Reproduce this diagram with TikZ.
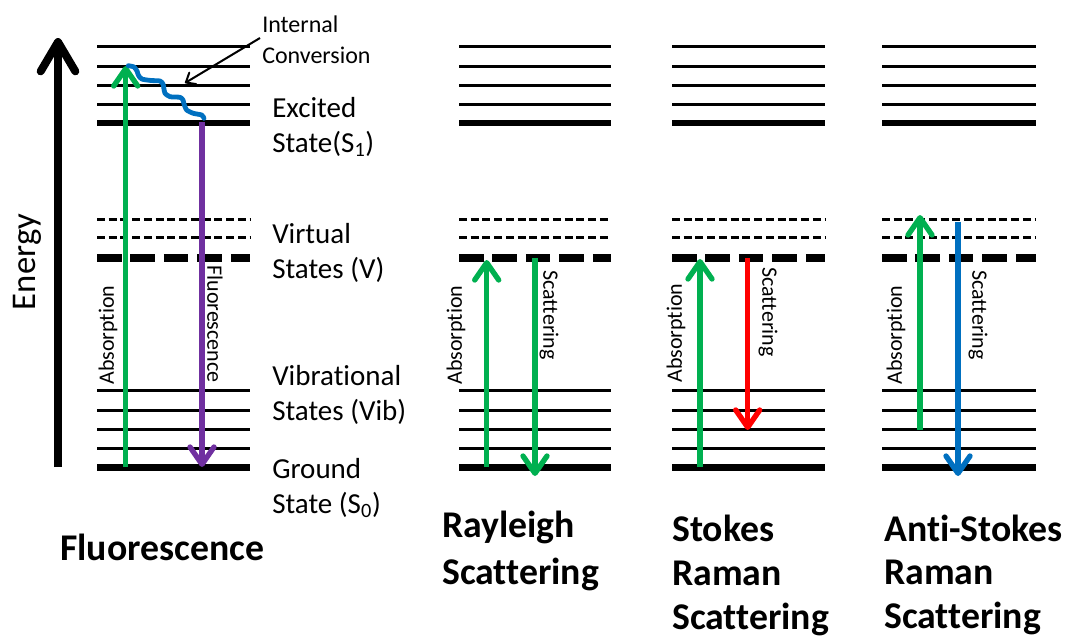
\documentclass[tikz,border=0pt]{standalone}
\usepackage{fontspec}
\setmainfont{Carlito}[Ligatures={NoCommon,NoContextual},Contextuals={NoAlternate}]
\usetikzlibrary{arrows.meta}
\definecolor{cgreen}{HTML}{00B050}
\definecolor{cpurple}{HTML}{7030A0}
\definecolor{cred}{HTML}{FF0000}
\definecolor{cblue}{HTML}{0070C0}
\begin{document}
\begin{tikzpicture}[x=0.75pt,y=-0.75pt,
  thinlvl/.style={line width=2.25pt},
  thicklvl/.style={line width=5pt},
  thindash/.style={line width=2.4pt, dash pattern=on 6pt off 2.8pt},
  thickdash/.style={line width=6pt, dash pattern=on 18.4pt off 6.7pt},
  arr/.style={line width=4pt, -{Straight Barb[length=13pt,width=18pt,round]}},
  lbl/.style={font=\fontsize{21.75}{26}\selectfont, anchor=base west, inner sep=0},
  ttl/.style={font=\fontsize{28.3}{33}\selectfont\bfseries, anchor=base west, inner sep=0},
  vlbl/.style={font=\fontsize{16.5}{20}\selectfont, inner sep=0},
  small/.style={font=\fontsize{18}{22}\selectfont, anchor=base west, inner sep=0}]
\useasboundingbox (0,0) rectangle (1067,639);

% energy levels
\foreach \xa/\xb in {97/250, 459/611, 672/825, 882/1036} {
  \foreach \y in {46,66,85,104,390.7,410,429.3,448.7}
    \draw[thinlvl] (\xa,\y) -- (\xb,\y);
  \draw[thicklvl] (\xa,123) -- (\xb,123);
  \draw[thicklvl] (\xa,467.7) -- (\xb,467.7);
  \draw[thindash] (\xa,219.3) -- (\xb,219.3);
  \draw[thindash] (\xa,237.7) -- (\xb,237.7);
  \draw[thickdash] (\xa,257.5) -- (\xb,257.5);
}

% energy axis
\coordinate (eb) at (58,467);
\coordinate (et) at (58,38);
\draw[line width=6pt, -{Straight Barb[length=22pt,width=26pt,round]}] (eb) -- (et);
\node[font=\fontsize{26}{30}\selectfont, rotate=90, inner sep=0] (energy) at (27,262) {Energy};

% Fluorescence column
\coordinate (fAb) at (125.7,467);
\coordinate (fAt) at (125.7,66);
\coordinate (fFb) at (202,122);
\coordinate (fFt) at (202,467);
\draw[arr, cgreen] (fAb) -- (fAt);
\draw[arr, cpurple] (fFb) -- (fFt);
\draw[cblue, line width=3.6pt, line cap=round, line join=round]
  plot[smooth, tension=0.4] coordinates {(128.3,65.7) (134,67) (137,71) (138.3,75) (141.7,79) (151,80.5) (160,81) (163,84) (163.8,88) (165,93.3) (170,96.7) (180,97.3) (183,100) (184,104) (186.7,110) (193.3,113.3) (201.7,115) (204,118.3)};
\node[vlbl, rotate=90] (fabs) at (108,335) {Absorption};
\node[vlbl, rotate=-90] (ffl) at (215,324) {Fluorescence};

\node[small] (ic1) at (262,32) {Internal};
\node[small] (ic2) at (262,63) {Conversion};
\coordinate (icS) at (260,38);
\coordinate (icE) at (185,83);
\draw[line width=1.5pt, -{Straight Barb[length=6pt,width=10pt,round]}] (icS) -- (icE);

\node[lbl] (l1) at (272,117) {Excited};
\node[lbl] (l2) at (272,152) {State(S\textsubscript{1})};
\node[lbl] (l3) at (272,243) {Virtual};
\node[lbl] (l4) at (272,278) {States (V)};
\node[lbl] (l5) at (272,385) {Vibrational};
\node[lbl] (l6) at (272,420) {States (Vib)};
\node[lbl] (l7) at (272,478) {Ground};
\node[lbl] (l8) at (272,513) {State (S\textsubscript{0})};

% Rayleigh
\coordinate (rAb) at (486.7,467);
\coordinate (rAt) at (486.7,260);
\coordinate (rSb) at (535,258);
\coordinate (rSt) at (535,476);
\draw[arr, cgreen] (rAb) -- (rAt);
\draw[arr, cgreen] (rSb) -- (rSt);
\node[vlbl, rotate=90] (rabs) at (456,335) {Absorption};
\node[vlbl, rotate=-90] (rsc) at (549,315) {Scattering};

% Stokes
\coordinate (sAb) at (700,467);
\coordinate (sAt) at (700,259);
\coordinate (sSb) at (747.7,258);
\coordinate (sSt) at (747.7,430);
\draw[arr, cgreen] (sAb) -- (sAt);
\draw[arr, cred] (sSb) -- (sSt);
\node[vlbl, rotate=90] (sabs) at (676,333) {Absorption};
\node[vlbl, rotate=-90] (ssc) at (768,312) {Scattering};

% Anti-Stokes
\coordinate (aAb) at (920,430);
\coordinate (aAt) at (920,215);
\coordinate (aSb) at (958,221.7);
\coordinate (aSt) at (958,476);
\draw[arr, cgreen] (aAb) -- (aAt);
\draw[arr, cblue] (aSb) -- (aSt);
\node[vlbl, rotate=90] (aabs) at (896,335) {Absorption};
\node[vlbl, rotate=-90] (asc) at (978,315) {Scattering};

% titles
\node[ttl] (t1) at (60,560) {Fluorescence};
\node[ttl] (t2) at (442,537) {Rayleigh};
\node[ttl] (t3) at (442,584) {Scattering};
\node[ttl] (t4) at (672,541) {Stokes};
\node[ttl] (t5) at (672,585) {Raman};
\node[ttl] (t6) at (672,629) {Scattering};
\node[ttl] (t7) at (884,541) {Anti-Stokes};
\node[ttl] (t8) at (884,584) {Raman};
\node[ttl] (t9) at (884,628) {Scattering};
\end{tikzpicture}
\end{document}
